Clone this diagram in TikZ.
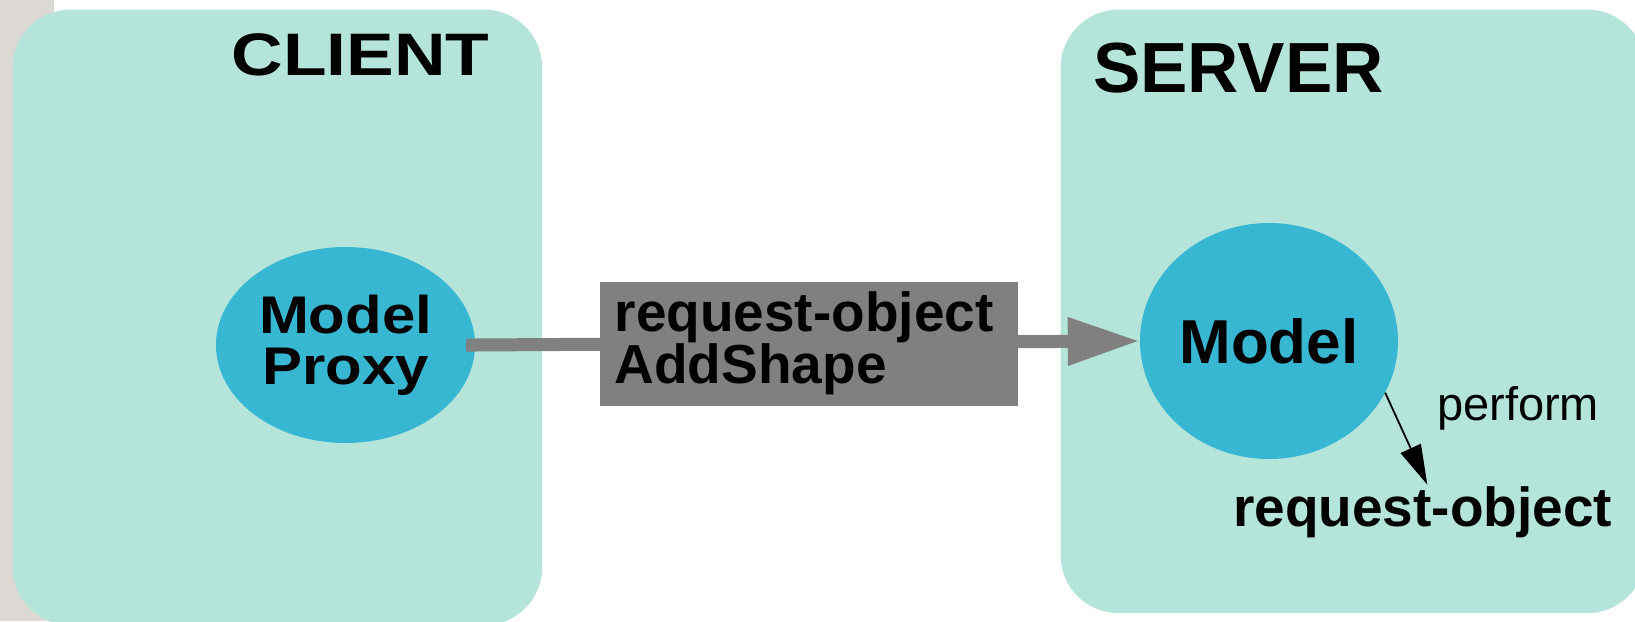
\documentclass[tikz,border=0pt]{standalone}
\usepackage{fontspec}
\setmainfont{Liberation Sans}
\usetikzlibrary{arrows.meta,shapes.geometric,calc}
\definecolor{stripc}{RGB}{220,216,212}
\definecolor{panec}{RGB}{181,229,218}
\definecolor{blobc}{RGB}{56,183,211}
\definecolor{wirec}{RGB}{128,128,128}
\begin{document}
\begin{tikzpicture}[x=1pt,y=-1pt,
  panebox/.style={fill=panec, rounded corners=58pt, inner sep=0pt, anchor=north west},
  blob/.style={ellipse, fill=blobc, inner sep=0pt},
  title/.style={anchor=base west, inner sep=0pt, font=\fontsize{#1}{#1}\selectfont\bfseries},
  wire/.style={draw=wirec, line width=13pt, -{Triangle[length=72pt,width=45pt]}},
  thinarrow/.style={draw=black, line width=1.8pt, -{Triangle[length=40pt,width=22pt]}}]
\useasboundingbox (0,0) rectangle (1635,621);
\clip (0,0) rectangle (1635,621);
\fill[stripc] (0,0) rectangle (54,621);
\node[panebox, minimum width=529.5pt, minimum height=615.6pt] (client) at (12.5,9.4) {};
\node[panebox, minimum width=584.6pt, minimum height=603.6pt] (server) at (1060.4,9.4) {};
\node[title=60] (clientlbl) at (231.5,75) {\scalebox{1.19}[1]{CLIENT}};
\node[title=71] (serverlbl) at (1093,92) {SERVER};
\node[blob, minimum width=259pt, minimum height=196pt, align=center,
      font=\fontsize{53}{51}\selectfont\bfseries] (proxy) at (345.5,345)
      {\scalebox{1.13}[1]{Model}\\\scalebox{1.13}[1]{Proxy}};
\node[blob, minimum width=258pt, minimum height=236pt,
      font=\fontsize{62}{62}\selectfont\bfseries] (model) at (1269,341) {Model};
\draw[wire, shorten <=-9pt] (proxy.east) -- (model.west);
\node[fill=wirec, minimum height=124pt, text width=388pt, inner xsep=15pt, align=left,
      font=\fontsize{55}{49}\selectfont\bfseries] (msg) at (808.6,343.5) {request-object\\AddShape};
\node[anchor=base west, inner sep=0pt, font=\fontsize{47}{47}\selectfont] (perflbl) at (1437,420) {perform};
\node[title=55] (reqobj) at (1233,526.6) {request-object};
\draw[thinarrow, shorten >=2pt] (model.-24) -- ($(reqobj.north)+(5.5,0)$);
\end{tikzpicture}
\end{document}
